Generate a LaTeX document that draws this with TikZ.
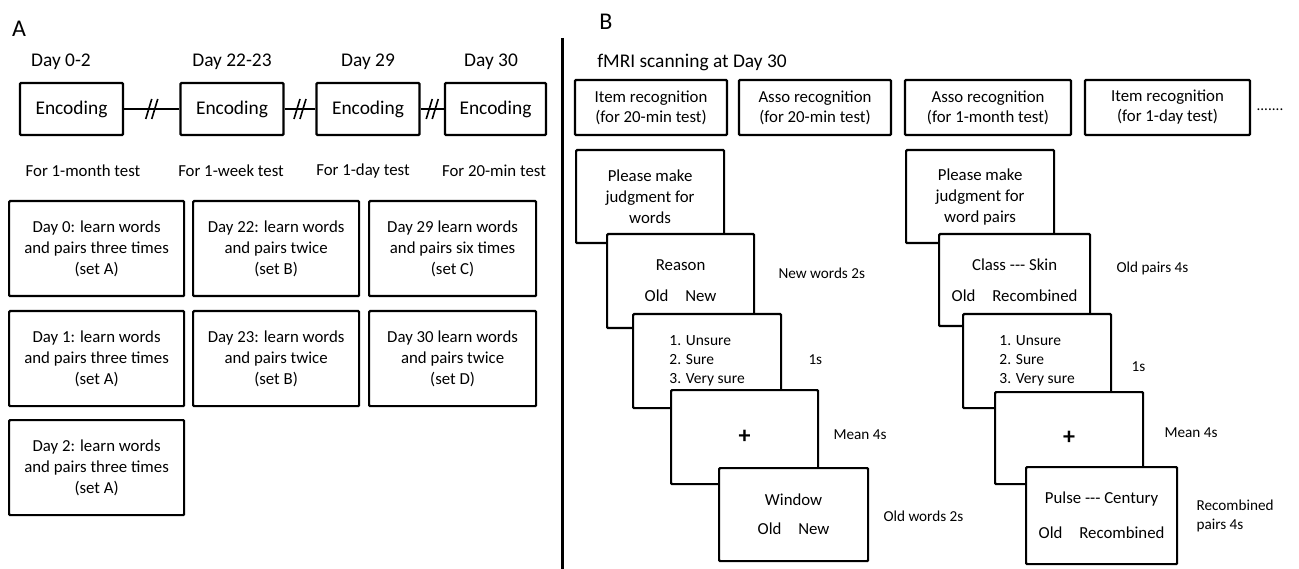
\documentclass[tikz,border=0pt]{standalone}
\usepackage{fontspec}
\setmainfont{Carlito}
\usetikzlibrary{calc}
\begin{document}
\begin{tikzpicture}[x=1pt, y=-1pt,
    box/.style={draw, line width=2.2pt, rounded corners=1pt, inner sep=0pt, align=center},
    panel/.style={font=\fontsize{24}{28}\selectfont},
    big/.style={font=\fontsize{19.4}{23}\selectfont},
    txt/.style={font=\fontsize{16.8}{21}\selectfont},
    small/.style={font=\fontsize{15.2}{19}\selectfont},
    encbox/.style={box, big, minimum width=103pt, minimum height=52pt},
    daybox/.style={box, txt, anchor=north west, minimum height=95pt},
    recbox/.style={box, txt, minimum height=55pt, font=\fontsize{16.8}{20}\selectfont},
    screen/.style={box, txt, fill=white, anchor=north west},
    cross/.style={font=\fontsize{24}{28}\selectfont\bfseries}]
    \useasboundingbox (0,0) rectangle (1299,569);

    % panel A: encoding sessions
    \node[panel] (labA) at (19,29) {A};
    \node[big] (d1) at (61,62) {Day 0-2};
    \node[big] (d2) at (232,62) {Day 22-23};
    \node[big] (d3) at (368,62) {Day 29};
    \node[big] (d4) at (491,62) {Day 30};
    \node[encbox] (e1) at (71.5,109) {Encoding};
    \node[encbox] (e2) at (232,109) {Encoding};
    \node[encbox] (e3) at (368,109) {Encoding};
    \node[encbox, minimum width=101pt] (e4) at (495.5,109) {Encoding};
    \foreach \a/\b in {e1/e2, e2/e3, e3/e4} {
        \draw[line width=2pt] (\a.east) -- (\b.west);
        \coordinate (m) at ($(\a.east)!0.5!(\b.west)$);
        \draw[line width=1.6pt] ($(m)+(-6,10)$) -- ($(m)+(0,-10)$);
        \draw[line width=1.6pt] ($(m)+(0,10)$) -- ($(m)+(6,-10)$);
    }
    \node[txt] (f1) at (83,171) {For 1-month test};
    \node[txt] (f2) at (231,171) {For 1-week test};
    \node[txt] (f3) at (363,171) {For 1-day test};
    \node[txt] (f4) at (494,171) {For 20-min test};

    \node[daybox, minimum width=175pt] (a1) at (8,200) {Day 0: learn words\\and pairs three times\\(set A)};
    \node[daybox, minimum width=166pt] (b1) at (192,200) {Day 22: learn words\\and pairs twice\\(set B)};
    \node[daybox, minimum width=167pt] (c1) at (368,200) {Day 29 learn words\\and pairs six times\\(set C)};
    \node[daybox, minimum width=175pt] (a2) at (8,310) {Day 1: learn words\\and pairs three times\\(set A)};
    \node[daybox, minimum width=166pt] (b2) at (192,310) {Day 23: learn words\\and pairs twice\\(set B)};
    \node[daybox, minimum width=167pt] (c2) at (368,310) {Day 30 learn words\\and pairs twice\\(set D)};
    \node[daybox, minimum width=175pt] (a3) at (8,419) {Day 2: learn words\\and pairs three times\\(set A)};

    % divider
    \draw[line width=3pt] (562,38) -- (562,569);

    % panel B: scanning
    \node[panel] (labB) at (606,22) {B};
    \node[big] (scan) at (692,62) {fMRI scanning at Day 30};
    \node[recbox, minimum width=152pt] (r1) at (651,107.5) {Item recognition\\(for 20-min test)};
    \node[recbox, minimum width=152pt] (r2) at (815,107.5) {Asso recognition\\(for 20-min test)};
    \node[recbox, minimum width=166pt] (r3) at (988,107.5) {Asso recognition\\(for 1-month test)};
    \node[recbox, minimum width=165pt] (r4) at (1167.5,107.5) {Item recognition\\(for 1-day test)};
    \node[small] (dots) at (1270,110) {.......};

    % item trials
    \node[screen, minimum width=148pt, minimum height=93pt] (p1) at (575,149) {Please make\\judgment for\\words};
    \node[screen, minimum width=147pt, minimum height=94pt] (w1) at (606,233) {Reason\\[10pt]Old\quad New};
    \node[screen, minimum width=148pt, minimum height=94pt, align=left, font=\fontsize{15.5}{19}\selectfont] (u1) at (632,313) {1. Unsure\\2. Sure\\3. Very sure};
    \node[screen, cross, minimum width=147pt, minimum height=94pt] (x1) at (670,389) {+};
    \node[screen, minimum width=149pt, minimum height=93pt] (v1) at (718,467) {Window\\[8pt]Old\quad New};
    \node[small, anchor=west] (t1) at (775,273) {New words 2s};
    \node[small, anchor=west] (t2) at (805,360) {1s};
    \node[small, anchor=west] (t3) at (830,435) {Mean 4s};
    \node[small, anchor=west] (t4) at (880,516) {Old words 2s};

    % associative trials
    \node[screen, minimum width=148pt, minimum height=93pt] (p2) at (905,149) {Please make\\judgment for\\word pairs};
    \node[screen, minimum width=151pt, minimum height=92pt] (w2) at (938,233) {Class -{}-{}- Skin\\[10pt]Old\quad Recombined};
    \node[screen, minimum width=148pt, minimum height=94pt, align=left, font=\fontsize{15.5}{19}\selectfont] (u2) at (962,313) {1. Unsure\\2. Sure\\3. Very sure};
    \node[screen, cross, minimum width=148pt, minimum height=92pt] (x2) at (994,391) {+};
    \node[screen, minimum width=151pt, minimum height=97pt] (v2) at (1025,466) {Pulse -{}-{}- Century\\[14pt]Old\quad Recombined};
    \node[small, anchor=west] (s1) at (1113,268) {Old pairs 4s};
    \node[small, anchor=west] (s2) at (1128,367) {1s};
    \node[small, anchor=west] (s3) at (1161,433) {Mean 4s};
    \node[small, anchor=west, align=left] (s4) at (1193,516) {Recombined\\pairs 4s};
\end{tikzpicture}
\end{document}
